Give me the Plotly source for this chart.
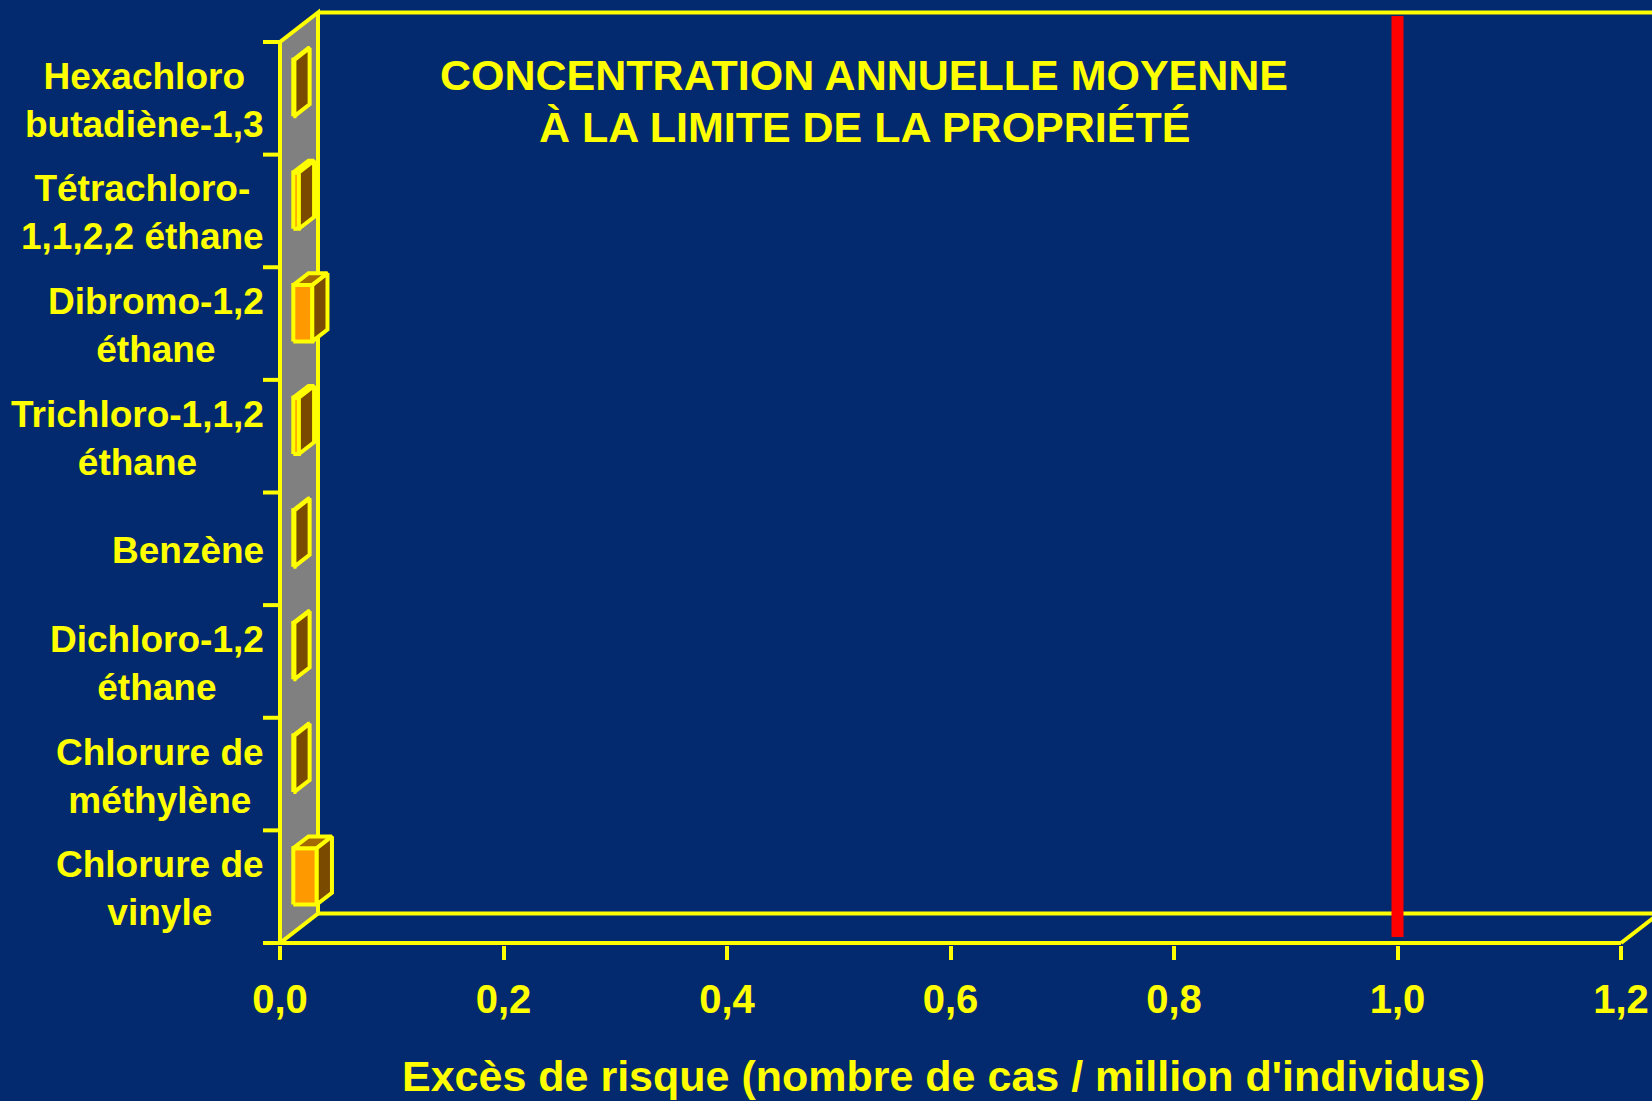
import plotly.graph_objects as go

# Excess cancer risk at the property line (cases per million people)
categories = [
    "Chlorure de<br>vinyle",
    "Chlorure de<br>méthylène",
    "Dichloro-1,2<br>éthane",
    "Benzène",
    "Trichloro-1,1,2<br>éthane",
    "Dibromo-1,2<br>éthane",
    "Tétrachloro-<br>1,1,2,2 éthane",
    "Hexachloro<br>butadiène-1,3",
]
risk_values = [0.021, 0.001, 0.001, 0.001, 0.005, 0.017, 0.005, 0.001]
risk_threshold = 1.0
x_ticks = [0.0, 0.2, 0.4, 0.6, 0.8, 1.0, 1.2]

title_lines = ["CONCENTRATION ANNUELLE MOYENNE", "À LA LIMITE DE LA PROPRIÉTÉ"]
x_title = "Excès de risque (nombre de cas / million d'individus)"

NAVY = "#03296E"
YELLOW = "#FFFF00"
GREY = "#808080"
ORANGE = "#FF9900"
BROWN = "#7A4A00"
TOP_BROWN = "#A26A00"
FONT = "Liberation Sans, Arial, sans-serif"

# pseudo-3D depth of the chart box, in axis units
DX = 0.034
DY = 0.262
X_MIN, X_MAX = -0.02237, 1.22774
Y_MIN, Y_MAX = -0.5178, 7.8285
n = len(categories)
y_lo, y_hi = -0.5, n - 0.5

# bars sit between these depth fractions
F0, F1 = 0.35, 0.75
H = 0.5

fig = go.Figure()


def poly(xs, ys, fill):
    fig.add_trace(go.Scatter(
        x=xs + [xs[0]], y=ys + [ys[0]], mode="lines", fill="toself",
        fillcolor=fill, line=dict(color=YELLOW, width=4),
        hoverinfo="skip", showlegend=False,
    ))


for i, v in enumerate(risk_values):
    x0, y0 = F0 * DX, i - H / 2 + F0 * DY
    x1, y1 = F1 * DX, i - H / 2 + F1 * DY
    # front face
    poly([x0, x0 + v, x0 + v, x0], [y0, y0, y0 + H, y0 + H], ORANGE)
    # top face
    poly([x0, x0 + v, x1 + v, x1], [y0 + H, y0 + H, y1 + H, y1 + H], TOP_BROWN)
    # end face
    poly([x0 + v, x1 + v, x1 + v, x0 + v], [y0, y1, y1 + H, y0 + H], BROWN)

# threshold line
fig.add_trace(go.Scatter(
    x=[risk_threshold, risk_threshold],
    y=[y_lo + 0.2 * DY, y_hi + 0.88 * DY],
    mode="lines", line=dict(color="#FF0000", width=12),
    hoverinfo="skip", showlegend=False,
))

shapes = []
# side wall
shapes.append(dict(
    type="path", xref="x", yref="y", layer="below",
    path=f"M 0 {y_lo} L 0 {y_hi} L {DX} {y_hi + DY} L {DX} {y_lo + DY} Z",
    fillcolor=GREY, line=dict(color=YELLOW, width=4),
))


def seg(xa, ya, xb, yb, layer="below"):
    shapes.append(dict(type="line", xref="x", yref="y", layer=layer,
                       x0=xa, y0=ya, x1=xb, y1=yb,
                       line=dict(color=YELLOW, width=4)))


# back wall edges and floor
seg(DX, y_hi + DY, X_MAX + 0.1, y_hi + DY)
seg(DX, y_lo + DY, X_MAX + 0.1, y_lo + DY)
seg(-0.0152, y_lo, x_ticks[-1], y_lo)
seg(x_ticks[-1], y_lo, x_ticks[-1] + DX, y_lo + DY)
# category boundary ticks on the wall edge
for k in range(n + 1):
    seg(-0.0152, y_lo + k, 0, y_lo + k)

annotations = []
for i, c in enumerate(categories):
    annotations.append(dict(
        x=-0.0125, y=i, xref="x", yref="y", text=f"<b>{c}</b>",
        showarrow=False, xanchor="right", yanchor="middle", align="center",
        yshift=-2,
        font=dict(family=FONT, size=37, color=YELLOW),
    ))
for line, yp in zip(title_lines, [0.9255, 0.8703]):
    annotations.append(dict(
        x=0.436, y=yp, xref="paper", yref="paper", text=f"<b>{line}</b>",
        showarrow=False, xanchor="center", yanchor="middle",
        font=dict(family=FONT, size=43, color=YELLOW),
    ))
annotations.append(dict(
    x=0.4928, y=-0.1395, xref="paper", yref="paper", text=f"<b>{x_title}</b>",
    showarrow=False, xanchor="center", yanchor="middle", borderpad=0,
    font=dict(family=FONT, size=43, color=YELLOW),
))

fig.update_layout(
    width=1652, height=1101,
    margin=dict(l=255, r=0, t=5, b=156),
    paper_bgcolor=NAVY, plot_bgcolor=NAVY,
    separators=", ",
    shapes=shapes, annotations=annotations,
    xaxis=dict(
        range=[X_MIN, X_MAX], tickvals=x_ticks, tickformat=".1f",
        showgrid=False, zeroline=False, showline=False,
        ticks="outside", ticklen=14, tickwidth=4, tickcolor=YELLOW,
        ticklabelstandoff=5,
        tickfont=dict(family=FONT, size=40, color=YELLOW, weight="bold"),
        fixedrange=True,
    ),
    yaxis=dict(
        range=[Y_MIN, Y_MAX], showgrid=False, zeroline=False,
        showline=False, showticklabels=False, ticks="", fixedrange=True,
    ),
)

fig.write_html("out.html")
